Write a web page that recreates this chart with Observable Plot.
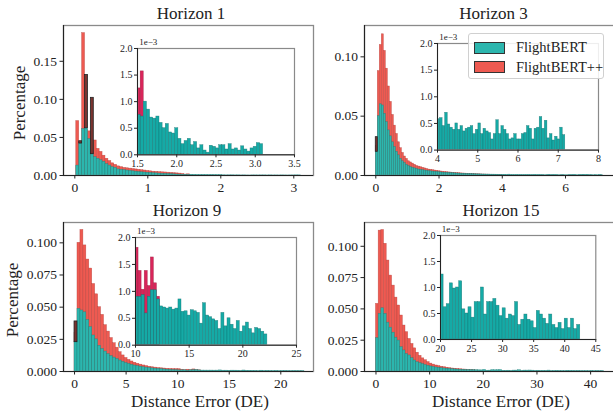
<!DOCTYPE html>
<html><head><meta charset="utf-8">
<script src="https://cdn.jsdelivr.net/npm/d3@7"></script>
<script src="https://cdn.jsdelivr.net/npm/@observablehq/plot@0.6"></script>
<style>
html,body{margin:0;padding:0;background:#fff;}
#fig{position:relative;width:613px;height:413px;overflow:hidden;background:#fff;font-family:"Liberation Serif","Times New Roman",Tinos,Times,"Nimbus Roman","DejaVu Serif",serif;color:#222;}
#fig svg{position:absolute;}
#fig svg text{font-family:"Liberation Serif","Times New Roman",Tinos,Times,"Nimbus Roman","DejaVu Serif",serif;}
.title{position:absolute;font-size:17px;transform:translateX(-50%);white-space:nowrap;line-height:1;}
.ylab{position:absolute;font-size:17px;white-space:nowrap;line-height:1;transform:translate(-50%,-50%) rotate(-90deg);}
.xlab{position:absolute;font-size:17px;white-space:nowrap;line-height:1;transform:translate(-50%,-50%);}
.mult{position:absolute;font-size:9px;line-height:1;}
.legend{position:absolute;background:rgba(255,255,255,0.85);border:1px solid #d0d0d0;border-radius:3px;}
.legend .row{position:absolute;left:5px;display:flex;align-items:center;font-size:14.5px;white-space:nowrap;}
.legend .sw{width:29px;height:10px;border:1px solid #333;margin-right:11px;}
</style></head><body><div id="fig"></div>
<script>
// ---------- DATA (values in units of 1e-3, i.e. percentage*1000) ----------
const seriesNames = ["FlightBERT", "FlightBERT++"];
const horizons = ["Horizon 1", "Horizon 3", "Horizon 9", "Horizon 15"];

// Horizon 1 : bins start 0.02, width 0.04
const h1Start = 0.02, h1Width = 0.04;
const h1TealHead = [13,42,61,62,48,28,24,22,20,18,15,13,11,10,8,7.5,7,6.5,6,5.5,5,4.6,4.2,3.9,3.6,3.3,3.0,2.8,2.5,2.3,2.1,1.9,1.7,1.5,1.3,1.1,0.9];
const h1TealTail = [0.75,0.72,1.00,0.85,0.70,0.68,0.72,0.60,0.50,0.58,0.42,0.40,0.50,0.30,0.20,0.26,0.30,0.18,0.24,0.12,0.18,0.08,0.04,0.17,0.15,0.12,0.18,0.18,0.10,0.20,0.10,0.12,0.08,0.16,0.10,0.06,0.12,0.15,0.22,0.20];
const h1Red = [71.5,40,187,60,58,30,46,35,31,26,22,19,16,14,12,11,10,9.5,9,8.5,8,7.5,7,6.5,6,5.5,5,4.8,4.5,4.2,4,3.7,3.4,3.1,2.8,2.5,2.0,1.25,1.57];
const h1DarkBins = [1, 3, 5];
const h1DarkTops = [45, 132, 102];

// Horizon 3 : bins start 0, width 4/63
const h3Start = 0, h3Width = 4 / 63;
const h3TealHead = [20,50,60,59,52,45,38,33,28,24,20,17,14,12,10.5,9,8,7,6.5,6,5.5,5,4.8,4.5,4.2,4,3.7,3.5,3.3,3.1,3,2.8,2.6,2.4,2.3,2.2,2.1,2.0,1.9,1.8,1.7,1.6,1.5,1.45,1.4,1.3,1.25,1.2,1.1,1.05,1.0,0.95,0.9,0.85,0.8,0.78,0.75,0.72,0.7,0.68,0.65,0.62,0.6];
const h3TealTail = [0.58,0.60,0.45,0.70,0.48,0.42,0.38,0.50,0.38,0.45,0.35,0.40,0.42,0.45,0.30,0.38,0.50,0.30,0.40,0.35,0.32,0.20,0.30,0.56,0.30,0.45,0.38,0.30,0.20,0.22,0.30,0.20,0.20,0.30,0.32,0.45,0.40,0.20,0.40,0.42,0.62,0.40,0.55,0.22,0.30,0.18,0.25,0.20,0.42,0.28];
const h3Red = [25,88,110,119,105,90,75,62,51,42,35,28,23,19,16,14,12,11,10,9,8,7.5,7,6.5,6,5.5,5,4.8,4.5,4.2,4,3.6,3.4,3.2,3,2.8,2.6,2.5,2.3,2.2,2,1.9,1.8,1.7,1.6,1.5,1.4,1.3,1.2,1.1,1.0,1.0,0.9,0.8,0.8,0.7,0.7,0.6,0.6,0.5,0.5,0.4,0.4];
const h3DarkBins = [0];
const h3DarkTops = [32.3];

// Horizon 9 : bins start 0, width 10/35
const h9Start = 0, h9Width = 10 / 35;
const h9TealHead = [22.8,48.7,47.4,46,40,34.5,28,25,20,17.5,15.5,13.5,12,10.8,9.7,8.5,7.5,6.6,5.9,5.2,4.6,4.1,3.7,3.3,3.0,2.7,2.4,2.2,2.0,1.8,1.6,1.4,1.25,1.1,1.0];
const h9TealTail = [0.9,0.9,0.93,0.59,0.9,1.02,1.02,0.85,0.72,0.70,0.68,0.70,0.66,0.68,0.85,0.62,0.63,0.55,0.65,0.63,0.60,0.40,0.78,0.55,0.52,0.48,0.45,0.30,0.60,0.35,0.50,0.38,0.30,0.45,0.25,0.35,0.42,0.30,0.22,0.32,0.30,0.25,0.20];
const h9Red = [30,100,110,98,87,80,68,60,50,44,36,31,26,22,18.5,15,12.5,10.5,9,7.8,6.8,6,5.3,4.7,4.2,3.7,3.3,3.0,2.7,2.5,2.3,2.1,2.0,1.9,1.85,1.81,1.38,1.03,1.38,1.1,1.63,1.15,0.9];
const h9DarkBins = [0];
const h9DarkTops = [38.9];

// Horizon 15 : bins start 0, width 0.5
const h15Start = 0, h15Width = 0.5;
const h15TealHead = [26.6,46,50.5,46,39,35,31,27,24.7,19.4,16.8,14,12.8,10.6,8.8,7.4,6.6,5.9,5.2,4.6,4.0,3.6,3.2,2.9,2.6,2.4,2.2,2.0,1.8,1.65,1.5,1.4,1.3,1.2,1.15,1.1,1.05,1.0,0.95,0.9];
const h15TealTail = [1.25,0.62,0.68,1.08,0.98,1.0,1.12,0.58,0.5,0.62,0.42,0.72,0.72,1.0,0.48,0.72,0.72,0.78,0.65,0.45,0.6,0.4,0.48,0.45,0.72,0.28,0.38,0.48,0.38,0.35,0.22,0.55,0.48,0.4,0.3,0.48,0.28,0.22,0.32,0.2,0.4,0.22,0.4,0.2,0.28];
const h15Red = [54,112.5,113,102,88.6,76.6,68.6,59,52.7,44.7,36.7,31.4,26,22,18.5,15,12.5,10.5,9,7.5,6.3,5.5,4.8,4.3,3.8,3.4,3.0,2.7,2.4,2.2,2.0,1.8,1.6,1.5,1.3,1.2,1.0,0.8,0.6];
const h15DarkBins = [];
const h15DarkTops = [];

// tick values
const h1XTicks = [0,1,2,3], h1YTicks = [0,0.05,0.10,0.15];
const h3XTicks = [0,2,4,6], h3YTicks = [0,0.05,0.10];
const h9XTicks = [0,5,10,15,20], h9YTicks = [0,0.025,0.05,0.075,0.1];
const h15XTicks = [0,10,20,30,40], h15YTicks = [0,0.025,0.05,0.075,0.1];
const insetYTicks = [0,0.0005,0.001,0.0015,0.002];
const h1InsetXTicks = [1.5,2.0,2.5,3.0,3.5];
const h3InsetXTicks = [4,5,6,7,8];
const h9InsetXTicks = [10,15,20,25];
const h15InsetXTicks = [20,25,30,35,40,45];

// ---------- STYLE / LAYOUT ----------
const TEAL = "#2cb6ae", TEAL_EDGE = "#1d7d78";
const RED = "#ee5a51", RED_EDGE = "#b23b34";
const DARK = "#7a3430";
const TEAL_IN = "#15aaa6", RED_IN = "#d8255a";
const FONT = '"Liberation Serif","Times New Roman",Tinos,Times,"Nimbus Roman","DejaVu Serif",serif';

function toBins(vals, start, width) {
  return vals.map((v, i) => ({x1: start + i * width, x2: start + (i + 1) * width, y: v / 1000}));
}

const panels = [
  {title: horizons[0], start: h1Start, width: h1Width, teal: h1TealHead.concat(h1TealTail), red: h1Red,
   darkBins: h1DarkBins, darkTops: h1DarkTops, box: {l: 63, t: 25, r: 313, b: 175}, titleX: 191, xlabX: 200,
   xDom: [-0.155, 3.27], yDom: [0, 0.197], xTicks: h1XTicks, yTicks: h1YTicks, yFmt: ".2f",
   inset: {l: 137.3, t: 47.7, r: 294.3, b: 154, xDom: [1.5, 3.5], xTicks: h1InsetXTicks, xFmt: ".1f"}},
  {title: horizons[1], start: h3Start, width: h3Width, teal: h3TealHead.concat(h3TealTail), red: h3Red,
   darkBins: h3DarkBins, darkTops: h3DarkTops, box: {l: 364, t: 25, r: 625, b: 175}, titleX: 493.5, xlabX: 501,
   xDom: [-0.357, 7.897], yDom: [0, 0.1264], xTicks: h3XTicks, yTicks: h3YTicks, yFmt: ".2f",
   inset: {l: 437.3, t: 42.7, r: 598.3, b: 149.3, xDom: [4, 8], xTicks: h3InsetXTicks, xFmt: "d"}},
  {title: horizons[2], start: h9Start, width: h9Width, teal: h9TealHead.concat(h9TealTail), red: h9Red,
   darkBins: h9DarkBins, darkTops: h9DarkTops, box: {l: 63, t: 222, r: 313, b: 371}, titleX: 187, xlabX: 200,
   xDom: [-1.07, 23.17], yDom: [0, 0.1158], xTicks: h9XTicks, yTicks: h9YTicks, yFmt: ".3f",
   inset: {l: 135, t: 237.3, r: 296, b: 345, xDom: [10, 25], xTicks: h9InsetXTicks, xFmt: "d"}},
  {title: horizons[3], start: h15Start, width: h15Width, teal: h15TealHead.concat(h15TealTail), red: h15Red,
   darkBins: h15DarkBins, darkTops: h15DarkTops, box: {l: 364, t: 222, r: 625, b: 371}, titleX: 501, xlabX: 501,
   xDom: [-2.14, 46.5], yDom: [0, 0.119], xTicks: h15XTicks, yTicks: h15YTicks, yFmt: ".3f",
   inset: {l: 439.7, t: 235.3, r: 595, b: 339.3, xDom: [20, 45], xTicks: h15InsetXTicks, xFmt: "d"}}
];

const fig = document.getElementById("fig");

function place(svg, left, top) {
  svg.style.left = left + "px";
  svg.style.top = top + "px";
  fig.appendChild(svg);
}

panels.forEach((p, k) => {
  const teal = toBins(p.teal, p.start, p.width);
  const red = toBins(p.red, p.start, p.width);
  const dark = p.darkBins.map((b, j) => ({x1: teal[b].x1, x2: teal[b].x2, y1: teal[b].y, y2: p.darkTops[j] / 1000}));
  const W = p.box.r - p.box.l, H = p.box.b - p.box.t;
  const mL = 48, mR = 30, mT = 4, mB = 24;
  const main = Plot.plot({
    width: W + mL + mR, height: H + mT + mB,
    marginLeft: mL, marginRight: mR, marginTop: mT, marginBottom: mB,
    x: {domain: p.xDom}, y: {domain: p.yDom},
    style: {fontFamily: FONT, fontSize: "13.5px", background: "transparent", overflow: "visible", color: "#222"},
    marks: [
      Plot.rectY(red, {x1: "x1", x2: "x2", y: "y", fill: RED, stroke: RED_EDGE, strokeWidth: 0.5, strokeOpacity: 0.7, clip: true}),
      Plot.rectY(teal, {x1: "x1", x2: "x2", y: "y", fill: TEAL, stroke: TEAL_EDGE, strokeWidth: 0.5, strokeOpacity: 0.7, clip: true}),
      Plot.rect(dark, {x1: "x1", x2: "x2", y1: "y1", y2: "y2", fill: DARK, stroke: "#222", strokeWidth: 0.8}),
      Plot.frame({stroke: "#8a8a8a", strokeWidth: 1.3}),
      Plot.ruleX([p.xDom[0]], {stroke: "#222", strokeWidth: 1.1}),
      Plot.ruleY([p.yDom[0]], {stroke: "#222", strokeWidth: 1.1}),
      Plot.axisX({ticks: p.xTicks, tickFormat: d3.format("d"), tickSize: 3.5, tickPadding: 3, label: null, stroke: "#222", fontSize: 13.5}),
      Plot.axisY({ticks: p.yTicks, tickFormat: d3.format(p.yFmt), tickSize: 3.5, tickPadding: 3, label: null, stroke: "#222", fontSize: 13.5})
    ]
  });
  place(main, p.box.l - mL, p.box.t - mT);

  // inset
  const q = p.inset;
  const iW = q.r - q.l, iH = q.b - q.t;
  const eps = 1e-9;
  const tealIn = teal.filter(d => d.x1 >= q.xDom[0] - eps);
  const redIn = red.filter(d => d.x1 >= q.xDom[0] - eps);
  const imL = 24, imR = 10, imT = 2, imB = 16;
  const inset = Plot.plot({
    width: iW + imL + imR, height: iH + imT + imB,
    marginLeft: imL, marginRight: imR, marginTop: imT, marginBottom: imB,
    x: {domain: q.xDom}, y: {domain: [0, 0.002]},
    style: {fontFamily: FONT, fontSize: "10px", background: "transparent", overflow: "visible", color: "#222"},
    marks: [
      Plot.frame({fill: "white", stroke: "none"}),
      Plot.rectY(redIn, {x1: "x1", x2: "x2", y: "y", fill: RED_IN, stroke: "#8a1030", strokeWidth: 0.5, strokeOpacity: 0.6, clip: true}),
      Plot.rectY(tealIn, {x1: "x1", x2: "x2", y: "y", fill: TEAL_IN, stroke: "#0e6e6b", strokeWidth: 0.5, strokeOpacity: 0.7, clip: true}),
      Plot.frame({stroke: "#8a8a8a", strokeWidth: 1.2}),
      Plot.ruleX([q.xDom[0]], {stroke: "#222", strokeWidth: 1}),
      Plot.ruleY([0], {stroke: "#222", strokeWidth: 1}),
      Plot.axisX({ticks: q.xTicks, tickFormat: d3.format(q.xFmt), tickSize: 3, tickPadding: 2, label: null, stroke: "#222", fontSize: 10}),
      Plot.axisY({ticks: insetYTicks, tickFormat: d => (d * 1000).toFixed(1), tickSize: 3, tickPadding: 2, label: null, stroke: "#222", fontSize: 10})
    ]
  });
  place(inset, q.l - imL, q.t - imT);

  const m = document.createElement("div");
  m.className = "mult";
  m.textContent = "1e\u22123";
  m.style.left = (q.l + 2) + "px";
  m.style.top = (q.t - 10) + "px";
  fig.appendChild(m);

  const t = document.createElement("div");
  t.className = "title";
  t.textContent = p.title;
  t.style.left = p.titleX + "px";
  t.style.top = (p.box.t - 20) + "px";
  fig.appendChild(t);

  if (k % 2 === 0) {
    const yl = document.createElement("div");
    yl.className = "ylab";
    yl.textContent = "Percentage";
    yl.style.left = (k === 0 ? 19 : 12) + "px";
    yl.style.top = ((p.box.t + p.box.b) / 2 + 3) + "px";
    fig.appendChild(yl);
  }
  if (k >= 2) {
    const xl = document.createElement("div");
    xl.className = "xlab";
    xl.textContent = "Distance Error (DE)";
    xl.style.left = p.xlabX + "px";
    xl.style.top = "401px";
    fig.appendChild(xl);
  }
});

// legend
const lg = document.createElement("div");
lg.className = "legend";
lg.style.left = "468px"; lg.style.top = "33px"; lg.style.width = "134px"; lg.style.height = "44px";
[[seriesNames[0], TEAL], [seriesNames[1], RED]].forEach(([name, col], i) => {
  const row = document.createElement("div");
  row.className = "row";
  row.style.top = (5 + i * 19.5) + "px";
  const sw = document.createElement("div");
  sw.className = "sw"; sw.style.background = col;
  const tx = document.createElement("span");
  tx.textContent = name;
  row.appendChild(sw); row.appendChild(tx);
  lg.appendChild(row);
});
fig.appendChild(lg);
</script></body></html>
